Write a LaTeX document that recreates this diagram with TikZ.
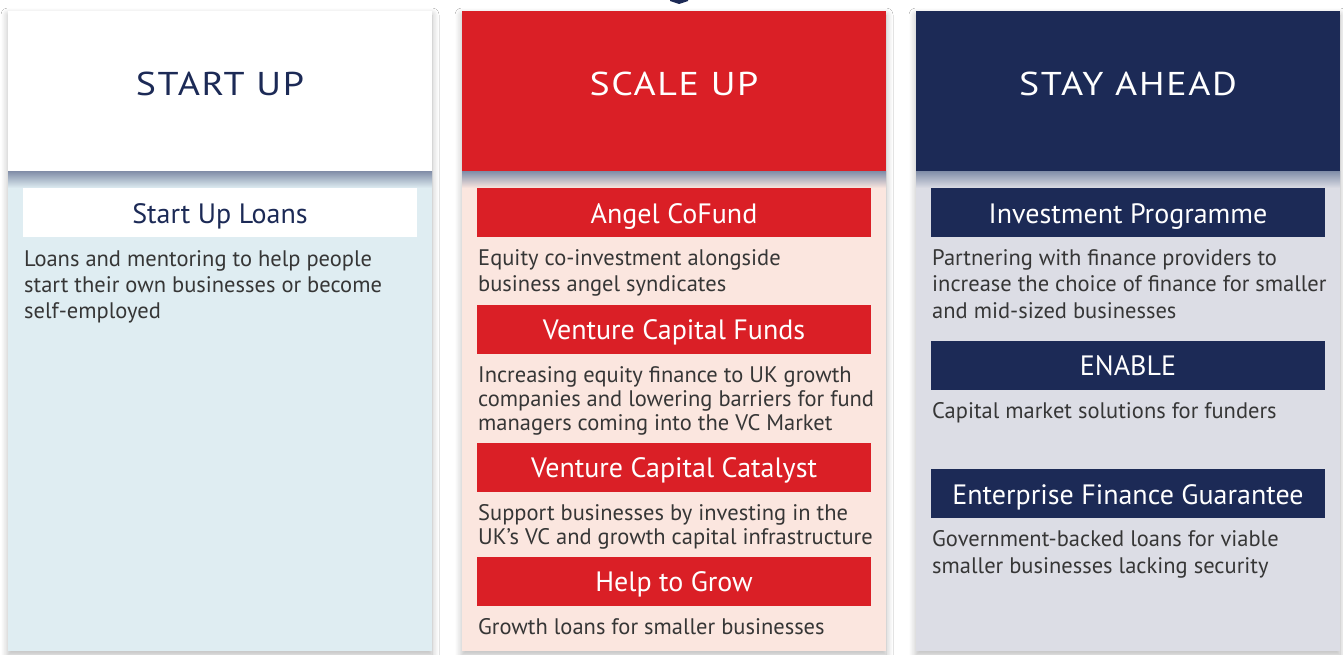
\documentclass[tikz,border=0pt]{standalone}
\usepackage{fontspec}
\setmainfont{PT Sans}
\newfontfamily\headfont[LetterSpace=5,FakeStretch=1.15]{PT Sans}
\usetikzlibrary{shadows.blur}
\definecolor{bbred}{HTML}{DA1F26}
\definecolor{bbnavy}{HTML}{1C2A56}
\definecolor{bodyA}{HTML}{DFEDF2}
\definecolor{bodyB}{HTML}{FBE6DF}
\definecolor{bodyC}{HTML}{DCDDE5}
\definecolor{txt}{HTML}{363636}
\definecolor{shd}{HTML}{7886A2}
\newcommand{\desctext}[2]{\parbox[t]{420pt}{\raggedright\fontsize{22.5}{#1}\selectfont #2}}
\begin{document}
\begin{tikzpicture}[x=1pt,y=-1pt,
  colbox/.style={rectangle,inner sep=0pt,minimum width=424pt,minimum height=640pt,
    blur shadow={shadow xshift=0pt,shadow yshift=-4pt,shadow blur radius=7pt,shadow blur steps=12,shadow opacity=28}},
  headbox/.style={rectangle,inner sep=0pt,minimum width=424pt,minimum height=161pt},
  headtext/.style={anchor=base,inner sep=0pt,font=\headfont\fontsize{33}{40}\selectfont},
  subbox/.style={rectangle,inner sep=0pt,minimum width=394pt,minimum height=49pt,text height=21pt,text depth=0pt,font=\fontsize{28}{32}\selectfont},
  desc/.style={anchor=base west,inner sep=0pt,text=txt},
  headshade/.style={draw=none,top color=shd!90,bottom color=#1}
]
\useasboundingbox (0,0) rectangle (1343,655);
\fill[white] (0,0) rectangle (1343,655);

% top marker
\fill[bbnavy] (670,0) -- (688,0) -- (688,1) -- (679,4) -- (670,1) -- cycle;

% column 1
\node[colbox,fill=bodyA] (c1) at (220,331) {};
\node[headbox,fill=white] (h1) at (220,91.5) {};
\shade[headshade=bodyA] (8,172) rectangle (432,188);
\node[headtext,text=bbnavy] (t1) at (220,96) {START UP};
\node[subbox,fill=white,text=bbnavy] (s11) at (220,212.5) {Start Up Loans};
\node[desc] (d11) at (24,266) {\desctext{26}{Loans and mentoring to help people\\start their own businesses or become\\self-employed}};

% column 2
\node[colbox,fill=bodyB] (c2) at (674,331) {};
\node[headbox,fill=bbred] (h2) at (674,91.5) {};
\shade[headshade=bodyB] (462,172) rectangle (886,188);
\node[headtext,text=white] (t2) at (674,96) {SCALE UP};
\node[subbox,fill=bbred,text=white] (s21) at (674,212.5) {Angel CoFund};
\node[desc] (d21) at (478,265) {\desctext{26}{Equity co-investment alongside\\business angel syndicates}};
\node[subbox,fill=bbred,text=white] (s22) at (674,329) {Venture Capital Funds};
\node[desc] (d22) at (478,382) {\desctext{24}{Increasing equity finance to UK growth\\companies and lowering barriers for fund\\managers coming into the VC Market}};
\node[subbox,fill=bbred,text=white] (s23) at (674,467) {Venture Capital Catalyst};
\node[desc] (d23) at (478,520) {\desctext{24}{Support businesses by investing in the\\UK’s VC and growth capital infrastructure}};
\node[subbox,fill=bbred,text=white] (s24) at (674,581) {Help to Grow};
\node[desc] (d24) at (478,634) {\desctext{24}{Growth loans for smaller businesses}};

% column 3
\node[colbox,fill=bodyC] (c3) at (1128,331) {};
\node[headbox,fill=bbnavy] (h3) at (1128,91.5) {};
\shade[headshade=bodyC] (916,172) rectangle (1340,188);
\node[headtext,text=white] (t3) at (1128,96) {STAY AHEAD};
\node[subbox,fill=bbnavy,text=white] (s31) at (1128,212.5) {Investment Programme};
\node[desc] (d31) at (932,265) {\desctext{26.5}{Partnering with finance providers to\\increase the choice of finance for smaller\\and mid-sized businesses}};
\node[subbox,fill=bbnavy,text=white] (s32) at (1128,365) {ENABLE};
\node[desc] (d32) at (932,418) {\desctext{26}{Capital market solutions for funders}};
\node[subbox,fill=bbnavy,text=white] (s33) at (1128,493.5) {Enterprise Finance Guarantee};
\node[desc] (d33) at (932,546.5) {\desctext{26.5}{Government-backed loans for viable\\smaller businesses lacking security}};
\end{tikzpicture}
\end{document}
